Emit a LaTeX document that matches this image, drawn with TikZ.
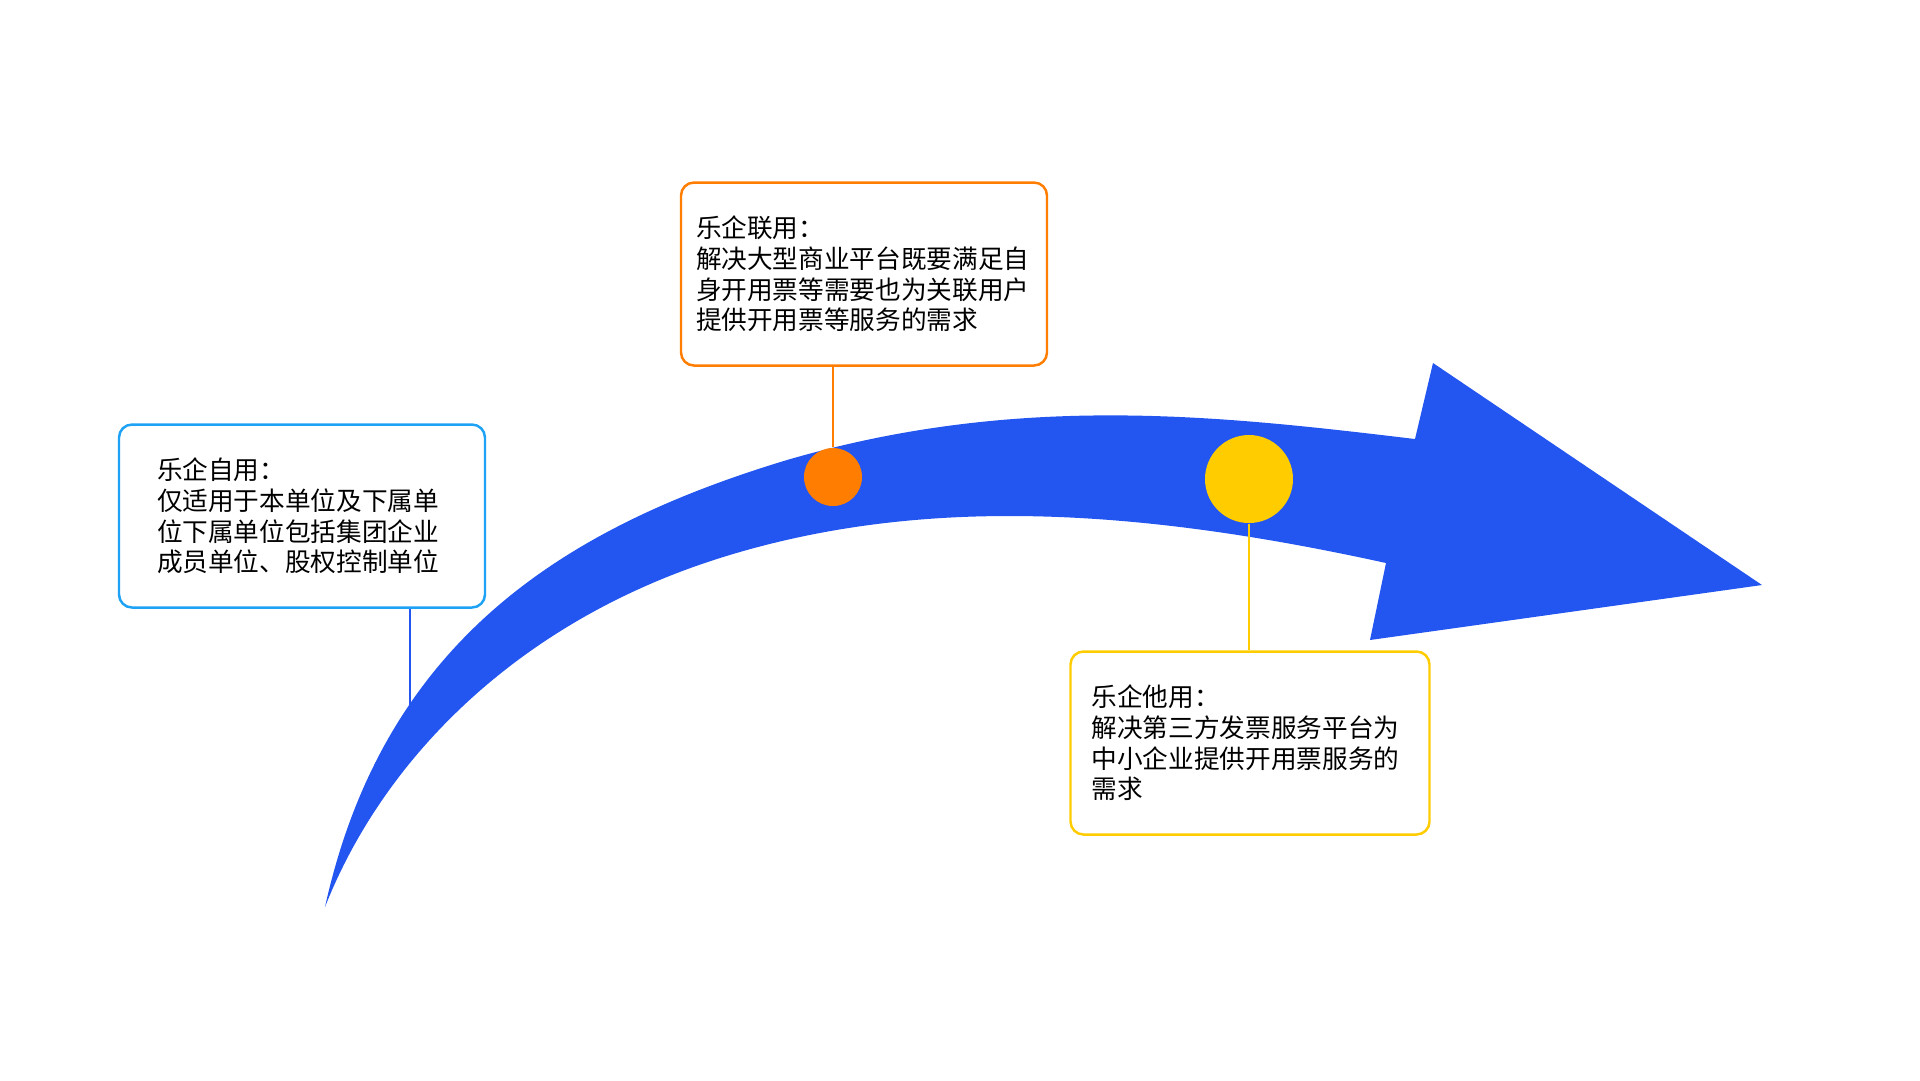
\documentclass[tikz,border=0pt]{standalone}
\usepackage{fontspec}
\newfontfamily\cjk{Noto Sans CJK SC}
\usepackage{tikz}

\definecolor{arrowblue}{RGB}{35,86,240}
\definecolor{selfblue}{RGB}{30,162,245}
\definecolor{unionorange}{RGB}{255,125,0}
\definecolor{otheryellow}{RGB}{255,204,0}

\begin{document}
\begin{tikzpicture}[x=0.1mm, y=-0.1mm,
  infobox/.style={draw, rounded corners=1.3mm, line width=0.7pt, fill=white,
    minimum height=18.3mm, align=left, font=\cjk\fontsize{7.3pt}{8.7pt}\selectfont},
  dot/.style={circle, inner sep=0pt},
  link/.style={line width=0.6pt}]
\useasboundingbox (0,0) rectangle (1920,1080);
%%%%% Arrow %%%%%
\fill[arrowblue] (325,907) .. controls (384,640) and (565,527) .. (787,460)
  .. controls (1017,393) and (1215,415) .. (1415,439)
  -- (1433,363) -- (1762,585) -- (1370,640) -- (1386,563)
  .. controls (1136,508) and (920,495) .. (720,558)
  .. controls (520,621) and (384,757) .. (325,907) -- cycle;
%%%%% Point %%%%%
\node[dot, fill=unionorange, minimum size=5.8mm] (uniondot) at (833,477) {};
\node[dot, fill=otheryellow, minimum size=8.8mm] (otherdot) at (1249,479) {};
%%%%% Box %%%%%
\node[infobox, draw=selfblue, inner xsep=3.8mm, text width=29mm] (selfbox) at (302,516)
  {乐企自用：\\仅适用于本单位及下属单\\位下属单位包括集团企业\\成员单位、股权控制单位};
\node[infobox, draw=unionorange, inner xsep=1.5mm, text width=33.6mm] (unionbox) at (864,274)
  {乐企联用：\\解决大型商业平台既要满足自\\身开用票等需要也为关联用户\\提供开用票等服务的需求};
\node[infobox, draw=otheryellow, inner xsep=2.1mm, text width=31.7mm] (otherbox) at (1250,743)
  {乐企他用：\\解决第三方发票服务平台为\\中小企业提供开用票服务的\\需求};
%%%%% Line %%%%%
\coordinate (selfend) at (410,705);
\draw[link, arrowblue] (selfend |- selfbox.south) -- (selfend);
\draw[link, unionorange] (uniondot.north) -- (uniondot |- unionbox.south);
\draw[link, otheryellow] (otherdot.south) -- (otherdot |- otherbox.north);
\end{tikzpicture}
\end{document}
